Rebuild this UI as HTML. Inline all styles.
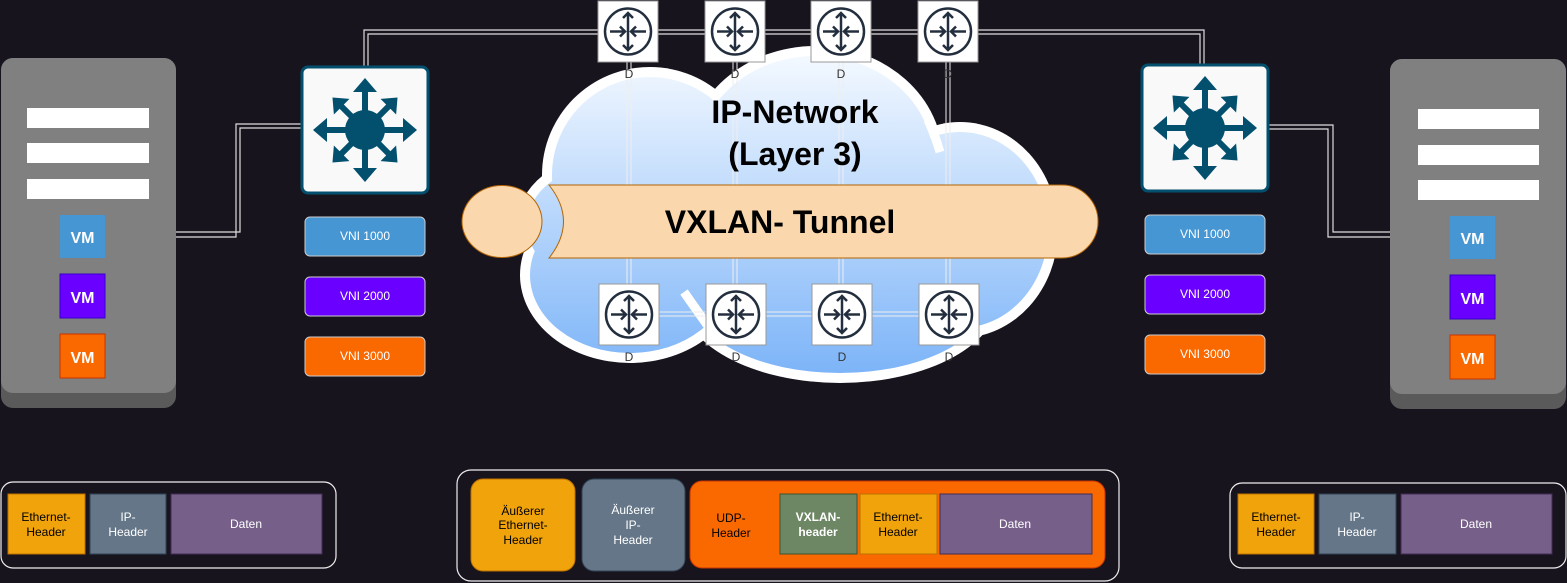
<!DOCTYPE html>
<html><head><meta charset="utf-8"><style>
html,body{margin:0;padding:0;background:#18141e;}
svg{display:block;font-family:"Liberation Sans",sans-serif;}
</style></head><body>
<svg width="1567" height="583" viewBox="0 0 1567 583" xmlns="http://www.w3.org/2000/svg">
<defs>
<linearGradient id="cg" gradientUnits="userSpaceOnUse" x1="0" y1="55" x2="0" y2="375">
<stop offset="0" stop-color="#f4f9ff"/><stop offset="1" stop-color="#7cb4f8"/>
</linearGradient>
<g id="rt">
<rect x="0" y="0" width="60" height="61" fill="#fff" stroke="#999" stroke-width="1"/>
<circle cx="30" cy="30.5" r="23" fill="none" stroke="#232f3e" stroke-width="2.5"/>
<g stroke="#232f3e" stroke-width="2.5" fill="none">
<line x1="30" y1="12" x2="30" y2="49"/><polyline points="25,17 30,12 35,17"/><polyline points="25,44 30,49 35,44"/>
<line x1="12" y1="30.5" x2="27" y2="30.5"/><polyline points="22,25.5 27,30.5 22,35.5"/>
<line x1="48" y1="30.5" x2="33" y2="30.5"/><polyline points="38,25.5 33,30.5 38,35.5"/>
</g></g>
<g id="ar"><rect x="-3" y="-40" width="6" height="30"/><polygon points="-12,-38 0,-52 12,-38"/></g>
<g id="ard"><rect x="-3" y="-36" width="6" height="26"/><polygon points="-11,-33 0,-46 11,-33"/></g>
<g id="sw">
<rect x="0" y="0" width="126" height="126" rx="6" fill="#f9f9f9" stroke="#03506e" stroke-width="3"/>
<g fill="#03506e" transform="translate(63,63)">
<circle r="20"/>
<use href="#ar"/><use href="#ard" transform="rotate(45)"/><use href="#ar" transform="rotate(90)"/><use href="#ard" transform="rotate(135)"/>
<use href="#ar" transform="rotate(180)"/><use href="#ard" transform="rotate(225)"/><use href="#ar" transform="rotate(270)"/><use href="#ard" transform="rotate(315)"/>
</g></g>
</defs>

<g fill="none" stroke-width="1.2">
<polyline points="176,232 240,232 240,128 305,128" stroke="#ddd"/>
<polyline points="176,237 236,237 236,124 305,124" stroke="#ddd"/>
<polyline points="364,68 364,30 1204,30 1204,66" stroke="#ddd"/>
<polyline points="368,68 368,34 1200,34 1200,66" stroke="#ddd"/>
<polyline points="1266,125 1333,125 1333,232 1392,232" stroke="#ddd"/>
<polyline points="1266,129 1328,129 1328,237 1392,237" stroke="#ddd"/>
</g>

<g fill="#fff">
<ellipse cx="650" cy="175" rx="108" ry="108"/><ellipse cx="815" cy="160" rx="128" ry="114"/>
<ellipse cx="960" cy="230" rx="98" ry="108"/><ellipse cx="630" cy="275" rx="110" ry="88"/>
<ellipse cx="840" cy="295" rx="160" ry="88"/><ellipse cx="605" cy="225" rx="88" ry="70"/>
</g>
<g fill="url(#cg)">
<ellipse cx="650" cy="175" rx="98" ry="98"/><ellipse cx="815" cy="160" rx="118" ry="104"/>
<ellipse cx="960" cy="230" rx="88" ry="98"/><ellipse cx="630" cy="275" rx="100" ry="78"/>
<ellipse cx="840" cy="295" rx="150" ry="78"/><ellipse cx="605" cy="225" rx="78" ry="60"/>
</g>
<path d="M928,120 Q935,135 940,152" stroke="#fff" stroke-width="9" fill="none"/>
<path d="M684,292 Q700,315 718,340" stroke="#fff" stroke-width="9" fill="none"/>

<g stroke="#eee" stroke-width="1" fill="none">
<line x1="627" y1="62" x2="627" y2="284"/><line x1="631" y1="62" x2="631" y2="284"/>
<line x1="733" y1="62" x2="733" y2="284"/><line x1="737" y1="62" x2="737" y2="284"/>
<line x1="839" y1="62" x2="839" y2="284"/><line x1="843" y1="62" x2="843" y2="284"/>
<line x1="946" y1="62" x2="946" y2="284"/><line x1="950" y1="62" x2="950" y2="284"/>
<line x1="659" y1="312" x2="919" y2="312"/><line x1="659" y1="316" x2="919" y2="316"/>
</g>

<text x="795" y="123" font-size="32" font-weight="bold" text-anchor="middle" fill="#000">IP-Network</text>
<text x="795" y="165" font-size="32" font-weight="bold" text-anchor="middle" fill="#000">(Layer 3)</text>

<ellipse cx="502" cy="221.5" rx="40" ry="36" fill="#fad7ac" stroke="#b46504" stroke-width="1"/>
<path d="M549,185 L1062,185 A36,36.5 0 0 1 1062,258 L549,258 Q578,221.5 549,185 Z" fill="#fad7ac" stroke="#b46504" stroke-width="1"/>
<text x="780" y="233" font-size="32" font-weight="bold" text-anchor="middle" fill="#000">VXLAN- Tunnel</text>

<use href="#rt" x="598" y="1"/><use href="#rt" x="705" y="1"/><use href="#rt" x="811" y="1"/><use href="#rt" x="918" y="1"/>
<use href="#rt" x="599" y="284"/><use href="#rt" x="706" y="284"/><use href="#rt" x="812" y="284"/><use href="#rt" x="919" y="284"/>
<g font-size="12" fill="#333" text-anchor="middle">
<text x="629" y="78">D</text><text x="735" y="78">D</text><text x="841" y="78">D</text><text x="948" y="78">D</text>
<text x="629" y="361">D</text><text x="736" y="361">D</text><text x="842" y="361">D</text><text x="949" y="361">D</text>
</g>

<use href="#sw" x="302" y="67"/><use href="#sw" x="1142" y="65"/>

<g stroke="#ccc" stroke-width="1">
<rect x="305" y="217" width="120" height="39" rx="5" fill="#4596d2"/>
<rect x="305" y="277" width="120" height="39" rx="5" fill="#6a00ff"/>
<rect x="305" y="337" width="120" height="39" rx="5" fill="#fa6800"/>
<rect x="1145" y="215" width="120" height="39" rx="5" fill="#4596d2"/>
<rect x="1145" y="275" width="120" height="39" rx="5" fill="#6a00ff"/>
<rect x="1145" y="335" width="120" height="39" rx="5" fill="#fa6800"/>
</g>
<g font-size="12" fill="#fff" text-anchor="middle">
<text x="365" y="240">VNI 1000</text><text x="365" y="300">VNI 2000</text><text x="365" y="360">VNI 3000</text>
<text x="1205" y="238">VNI 1000</text><text x="1205" y="298">VNI 2000</text><text x="1205" y="358">VNI 3000</text>
</g>

<g>
<rect x="1" y="58" width="175" height="350" rx="12" fill="#5a5a5a"/>
<rect x="1" y="58" width="175" height="335" rx="12" fill="#808080"/>
<rect x="27" y="108" width="122" height="20" fill="#fff"/><rect x="27" y="143" width="122" height="20" fill="#fff"/><rect x="27" y="179" width="122" height="20" fill="#fff"/>
<rect x="60" y="215" width="45" height="43" fill="#4596d2"/>
<rect x="60" y="274" width="45" height="44" fill="#6a00ff" stroke="#3700cc"/>
<rect x="60" y="334" width="45" height="44" fill="#fa6800" stroke="#c73500"/>
<rect x="1390" y="59" width="176" height="350" rx="12" fill="#5a5a5a"/>
<rect x="1390" y="59" width="176" height="335" rx="12" fill="#808080"/>
<rect x="1418" y="109" width="121" height="20" fill="#fff"/><rect x="1418" y="145" width="121" height="20" fill="#fff"/><rect x="1418" y="180" width="121" height="20" fill="#fff"/>
<rect x="1450" y="216" width="45" height="43" fill="#4596d2"/>
<rect x="1450" y="275" width="45" height="44" fill="#6a00ff" stroke="#3700cc"/>
<rect x="1450" y="335" width="45" height="44" fill="#fa6800" stroke="#c73500"/>
</g>
<g font-size="16" font-weight="bold" fill="#fff" text-anchor="middle">
<text x="82.5" y="243">VM</text><text x="82.5" y="303">VM</text><text x="82.5" y="363">VM</text>
<text x="1472.5" y="244">VM</text><text x="1472.5" y="304">VM</text><text x="1472.5" y="364">VM</text>
</g>

<g fill="none" stroke="#eee" stroke-width="1.2">
<rect x="1" y="482" width="335" height="86" rx="12"/>
<rect x="457" y="470" width="662" height="111" rx="14"/>
<rect x="1230" y="483" width="336" height="85" rx="12"/>
</g>
<g stroke-width="1">
<rect x="8" y="494" width="77" height="60" fill="#f0a30a" stroke="#bd7000"/>
<rect x="90" y="494" width="76" height="60" fill="#647687" stroke="#314354"/>
<rect x="171" y="494" width="151" height="60" fill="#76608a" stroke="#432d57"/>
<rect x="1238" y="494" width="76" height="60" fill="#f0a30a" stroke="#bd7000"/>
<rect x="1319" y="494" width="77" height="60" fill="#647687" stroke="#314354"/>
<rect x="1401" y="494" width="151" height="60" fill="#76608a" stroke="#432d57"/>
<rect x="471" y="479" width="104" height="92" rx="12" fill="#f0a30a" stroke="#bd7000"/>
<rect x="582" y="479" width="103" height="92" rx="12" fill="#647687" stroke="#314354"/>
<rect x="690" y="481" width="415" height="87" rx="12" fill="#fa6800" stroke="#c73500"/>
<rect x="780" y="494" width="77" height="60" fill="#6d8764" stroke="#3a5431"/>
<rect x="860" y="494" width="77" height="60" fill="#f0a30a" stroke="#bd7000"/>
<rect x="940" y="494" width="152" height="60" fill="#76608a" stroke="#432d57"/>
</g>
<g font-size="12" text-anchor="middle">
<text x="46" y="521" fill="#000">Ethernet-</text><text x="46" y="536" fill="#000">Header</text>
<text x="128" y="521" fill="#fff">IP-</text><text x="128" y="536" fill="#fff">Header</text>
<text x="246" y="528" fill="#fff">Daten</text>
<text x="1276" y="521" fill="#000">Ethernet-</text><text x="1276" y="536" fill="#000">Header</text>
<text x="1357" y="521" fill="#fff">IP-</text><text x="1357" y="536" fill="#fff">Header</text>
<text x="1476" y="528" fill="#fff">Daten</text>
<text x="523" y="515" fill="#000">Äußerer</text><text x="523" y="529" fill="#000">Ethernet-</text><text x="523" y="544" fill="#000">Header</text>
<text x="633" y="514" fill="#fff">Äußerer</text><text x="633" y="529" fill="#fff">IP-</text><text x="633" y="544" fill="#fff">Header</text>
<text x="731" y="522" fill="#000">UDP-</text><text x="731" y="537" fill="#000">Header</text>
<text x="818" y="521" fill="#fff" font-weight="bold">VXLAN-</text><text x="818" y="536" fill="#fff" font-weight="bold">header</text>
<text x="898" y="521" fill="#000">Ethernet-</text><text x="898" y="536" fill="#000">Header</text>
<text x="1015" y="528" fill="#fff">Daten</text>
</g>
</svg>
</body></html>
